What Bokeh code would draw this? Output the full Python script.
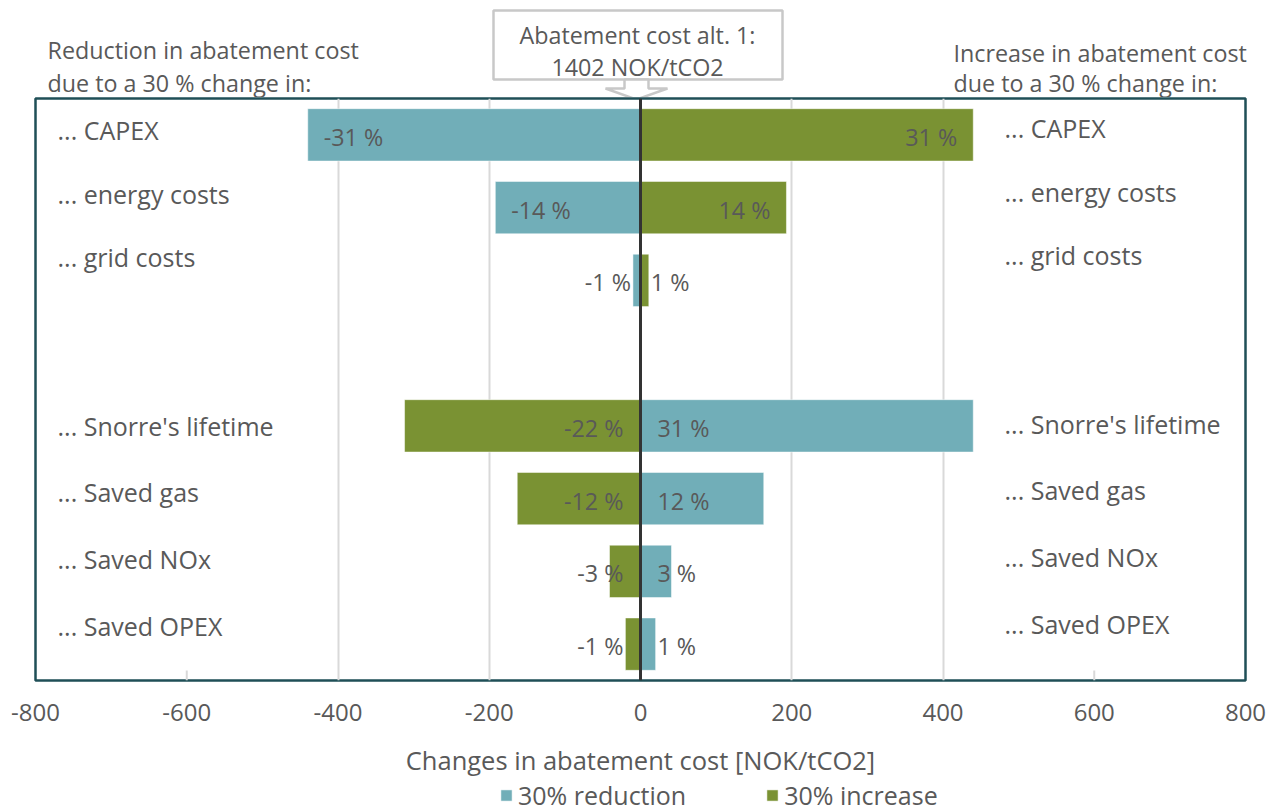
from bokeh.plotting import figure
from bokeh.layouts import column
from bokeh.models import (Range1d, FixedTicker, Span, Legend, LegendItem,
                          ColumnDataSource)
from bokeh.core.properties import value
from bokeh.embed import file_html
from bokeh.resources import INLINE

# ---- data -------------------------------------------------------------
parameters = ["CAPEX", "energy costs", "grid costs",
              "Snorre's lifetime", "Saved gas", "Saved NOx", "Saved OPEX"]
group_sizes = [3, 4]                       # cost drivers / benefit drivers
reduction = [-440, -192, -10, 440, 163, 41, 20]     # NOK/tCO2, 30 % reduction
increase = [440, 193, 11, -312, -163, -41, -20]     # NOK/tCO2, 30 % increase
base_cost = 1402                                    # NOK/tCO2, alternative 1
x_ticks = [-800, -600, -400, -200, 0, 200, 400, 600, 800]
series_names = ["30% reduction", "30% increase"]

# ---- style ------------------------------------------------------------
TEAL = "#71AEB8"
GREEN = "#7A9233"
TEXT = "#595959"
FRAME = "#1F4F57"
GRID = "#D9D9D9"
BOXLINE = "#C8C8C8"
FONT = "Open Sans"
FS_NOTE = "23.3px"      # headers, callout, value labels
FS_NAME = "25px"        # parameter names
FS_TICK = "24px"
FS_TITLE = "25.5px"
FS_LEGEND = "25px"

W = 1276
HEAD_H = 97             # header strip above the chart
FOOT_H = 28             # legend strip below the chart
MAIN_H = 807 - HEAD_H - FOOT_H
L, R, T, B = 35, 31, 1, 96
frame_w = W - L - R
frame_h = MAIN_H - T - B
x_lo, x_hi = x_ticks[0], x_ticks[-1]
y_top, y_bottom = -0.5, 7.5
FRAME_TOP = HEAD_H + T  # page row of the plot frame's top edge


def dx(px):
    """page x pixel -> data x"""
    return x_lo + (px - L) * (x_hi - x_lo) / frame_w


def dy(py):
    """page y pixel -> data y (categories run downwards)"""
    return y_top + (py - FRAME_TOP) * (y_bottom - y_top) / frame_h


def texts(fig, xs, ys, labels, size, align="left", **kw):
    fig.text(x=xs, y=ys, text=labels, text_align=align, text_baseline="middle",
             text_font=value(FONT), text_font_size=size, text_color=TEXT, **kw)


def strip(height, x_range, y_range):
    f = figure(width=W, height=height, title=None, x_range=x_range, y_range=y_range,
               x_axis_location=None, y_axis_location=None,
               output_backend="svg", toolbar_location=None,
               min_border=0, outline_line_color=None, frame_align=False)
    f.xgrid.visible = False
    f.ygrid.visible = False
    return f


# slot positions: the two groups are separated by one empty row
slots = list(range(group_sizes[0])) + [group_sizes[0] + 1 + i for i in range(group_sizes[1])]

# ======================= header strip ==================================
head = strip(HEAD_H, Range1d(dx(0), dx(W)), Range1d(HEAD_H, 0))

texts(head, [dx(47), dx(47)], [49, 82],
      ["Reduction in abatement cost", "due to a 30 % change in:"], FS_NOTE)
texts(head, [dx(953), dx(953)], [52, 82],
      ["Increase in abatement cost", "due to a 30 % change in:"], FS_NOTE)

# callout box with a block arrow pointing at the zero line
head.patch(x=[dx(493), dx(782), dx(782), dx(493)], y=[10, 10, 79, 79],
           fill_color="white", line_color=BOXLINE, line_width=2.5)
head.patch(x=[dx(624), dx(648), dx(648), dx(667), dx(636), dx(605), dx(624)],
           y=[79, 79, 88, 88, 99, 88, 88],
           fill_color="white", line_color=BOXLINE, line_width=2.5)
texts(head, [dx(637), dx(637)], [34, 66],
      ["Abatement cost alt. 1:", f"{base_cost} NOK/tCO2"], FS_NOTE, align="center")

# ======================= main chart ====================================
p = figure(width=W, height=MAIN_H, title=None,
           x_range=Range1d(x_lo, x_hi), y_range=Range1d(y_bottom, y_top),
           output_backend="svg", toolbar_location=None, frame_align=False,
           min_border_left=L, min_border_right=R,
           min_border_top=T, min_border_bottom=B)
p.background_fill_color = "white"
p.border_fill_color = "white"
p.outline_line_color = FRAME
p.outline_line_width = 2.5

p.yaxis.visible = False
p.ygrid.visible = False

ax = p.xaxis[0]
ax.ticker = FixedTicker(ticks=x_ticks)
ax.major_label_overrides = {t: str(t) for t in x_ticks}
ax.axis_line_color = None
ax.major_tick_line_color = None
ax.minor_tick_line_color = None
ax.major_label_text_font = FONT
ax.major_label_text_font_size = FS_TICK
ax.major_label_text_color = TEXT
ax.major_label_standoff = 17
ax.axis_label = "Changes in abatement cost [NOK/tCO2]"
ax.axis_label_text_font = FONT
ax.axis_label_text_font_size = FS_TITLE
ax.axis_label_text_font_style = "normal"
ax.axis_label_text_color = TEXT
ax.axis_label_standoff = 19

p.xgrid.ticker = FixedTicker(ticks=[t for t in x_ticks if 0 < abs(t) <= 400])
p.xgrid.grid_line_color = GRID
p.xgrid.grid_line_width = 2

# short grid stubs at +-600 (the label boxes hide the rest)
stub_x = [t for t in x_ticks if abs(t) == 600]
p.segment(x0=stub_x, x1=stub_x, y0=[dy(673)] * 2, y1=[y_bottom] * 2,
          line_color=GRID, line_width=2)

# ---- bars -------------------------------------------------------------
src_red = ColumnDataSource(dict(y=slots, right=reduction))
src_inc = ColumnDataSource(dict(y=slots, right=increase))
edge = dict(line_color="white", line_alpha=0.5, line_width=1)
p.hbar(y="y", left=0, right="right", height=0.72, source=src_red, fill_color=TEAL, **edge)
p.hbar(y="y", left=0, right="right", height=0.72, source=src_inc, fill_color=GREEN, **edge)

p.add_layout(Span(location=0, dimension="height", line_color="#333333", line_width=3))

# ---- value labels (percent of the base cost) -------------------------
px_per_unit = frame_w / (x_hi - x_lo)
lab = dict(x=[], y=[], text=[], align=[], off=[])
for vals in (reduction, increase):
    for i, (yy, v) in enumerate(zip(slots, vals)):
        pct = round(100 * v / base_cost)
        s = 1 if v > 0 else -1
        if i >= group_sizes[0]:
            # lower group: label next to the zero line
            x, off, align = 0, 17 * s, ("left" if s > 0 else "right")
        elif abs(v) * px_per_unit > 60:
            # long bar: label inside the far end
            x, off, align = v, -16 * s, ("right" if s > 0 else "left")
        else:
            # short bar: label just beyond the end
            x, off, align = v, 2 * s, ("left" if s > 0 else "right")
        lab["x"].append(x)
        lab["y"].append(yy)
        lab["text"].append(f"{pct} %")
        lab["align"].append(align)
        lab["off"].append(off)
p.text(x="x", y="y", text="text", source=ColumnDataSource(lab),
       text_align="align", x_offset="off", y_offset=2, text_baseline="middle",
       text_font=value(FONT), text_font_size=FS_NOTE, text_color=TEXT)

# ---- parameter names on both sides -----------------------------------
name_y = ([dy(130 + 63.5 * i) for i in range(group_sizes[0])] +
          [dy(427 + 67 * i) for i in range(group_sizes[1])])
names = ["... " + n for n in parameters]
texts(p, [dx(57)] * len(names), name_y, names, FS_NAME)
texts(p, [dx(1004)] * len(names), name_y, names, FS_NAME, y_offset=-2)

# ======================= legend strip ==================================
foot = strip(FOOT_H, Range1d(0, 1), Range1d(0, 1))
# zero-width bars outside the strip's range; they only carry the series
# colours for the legend swatches
sw_red = foot.hbar(y=[2], left=[0], right=[0], height=1, fill_color=TEAL, **edge)
sw_inc = foot.hbar(y=[2], left=[0], right=[0], height=1, fill_color=GREEN, **edge)
legend = Legend(items=[LegendItem(label=series_names[0], renderers=[sw_red]),
                       LegendItem(label=series_names[1], renderers=[sw_inc])],
                orientation="horizontal", location=(499, -5),
                glyph_width=14, glyph_height=14, label_standoff=5, spacing=79,
                padding=0, margin=0, border_line_color=None,
                background_fill_alpha=0,
                label_text_font=FONT, label_text_font_size=FS_LEGEND,
                label_text_color=TEXT, label_height=22)
foot.add_layout(legend, "center")

page = column(head, p, foot, spacing=0)
open("out.html", "w").write(file_html(page, INLINE))
